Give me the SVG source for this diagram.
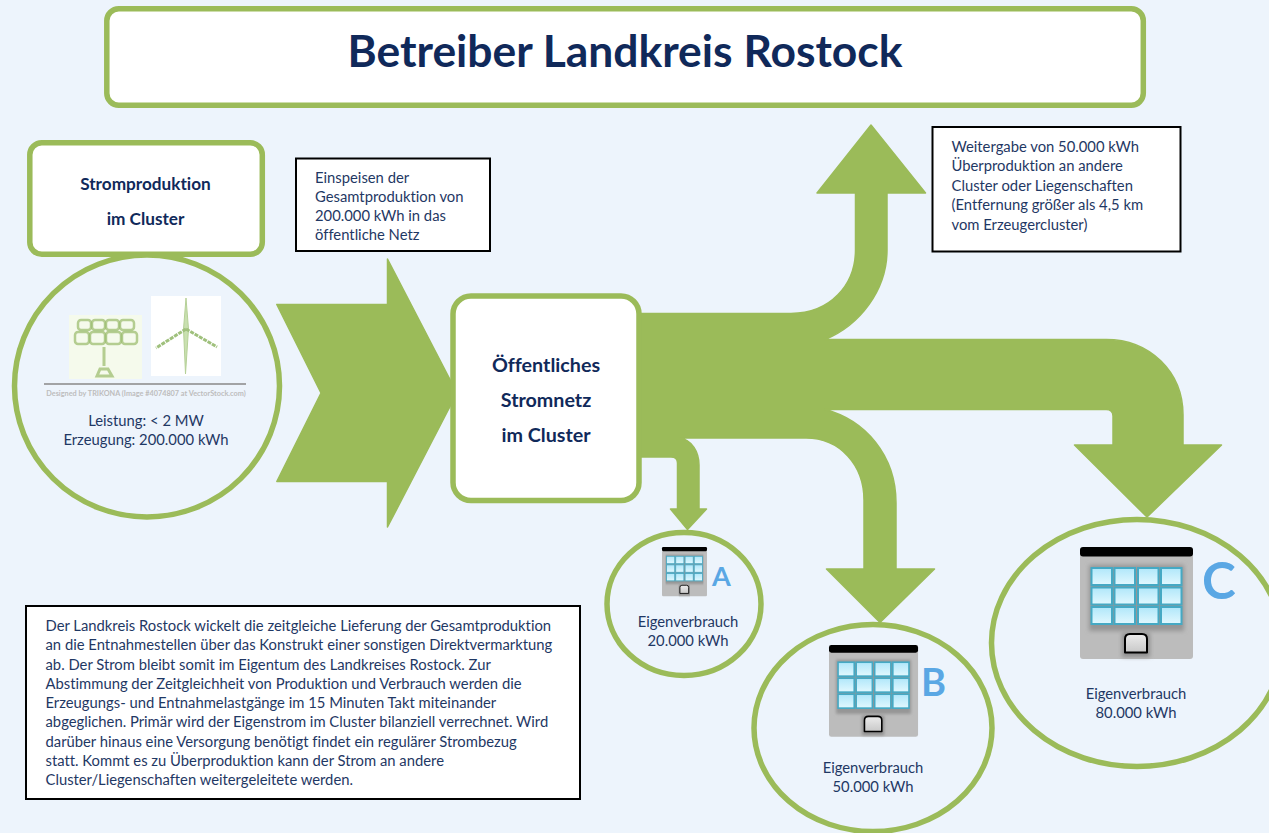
<svg xmlns="http://www.w3.org/2000/svg" xmlns:xlink="http://www.w3.org/1999/xlink" width="1269" height="833" viewBox="0 0 1269 833">
<style>
text{font-family:"Lato","Open Sans","Liberation Sans",sans-serif;fill:#1f3864;font-variant-ligatures:none}
.g{fill:#fff;stroke:#9bbb59;stroke-width:5.5}
.c{fill:none;stroke:#9bbb59;stroke-width:5.5}
.k{fill:#fff;stroke:#000;stroke-width:2}
.t{font-size:14.8px}
.m{text-anchor:middle}
.b{font-weight:700;fill:#10295a}
.l{font-weight:700;fill:#5aa7e4}
.flow{fill:#9bbb59;stroke:#9bbb59;stroke-width:1.5;stroke-linejoin:round}
.p{fill:none;stroke:#9dbd72;stroke-opacity:.75}
</style>
<defs>
<filter id="soft" x="-20%" y="-20%" width="140%" height="140%"><feGaussianBlur stdDeviation=".7"/></filter>
<filter id="shade" x="-20%" y="-20%" width="140%" height="140%"><feGaussianBlur stdDeviation="2"/></filter>
<linearGradient id="w" x1="0" y1="0" x2="0" y2="1"><stop offset="0" stop-color="#b0e7fa"/><stop offset="1" stop-color="#e2f8fe"/></linearGradient>
<linearGradient id="d" x1="0" y1="0" x2="0" y2="1"><stop offset="0" stop-color="#ececec"/><stop offset="1" stop-color="#c8c8c8"/></linearGradient>
<g id="win"><rect width="20.500" height="17" fill="url(#w)" stroke="#45a9c4" stroke-width="2"/></g>
<g id="bld">
<rect y="1" width="113" height="111" rx="3" fill="#bcbcbc"/>
<rect x="9" y="18" width="95" height="66" fill="#959595" filter="url(#shade)"/>
<rect x="42" y="86" width="28" height="24" fill="#8f8f8f" filter="url(#shade)"/>
<rect width="113" height="9.500" rx="3" fill="#000"/>
<use xlink:href="#win" href="#win" x="11.500" y="21"/><use xlink:href="#win" href="#win" x="34.500" y="21"/><use xlink:href="#win" href="#win" x="58" y="21"/><use xlink:href="#win" href="#win" x="81" y="21"/>
<use xlink:href="#win" href="#win" x="11.500" y="40.500"/><use xlink:href="#win" href="#win" x="34.500" y="40.500"/><use xlink:href="#win" href="#win" x="58" y="40.500"/><use xlink:href="#win" href="#win" x="81" y="40.500"/>
<use xlink:href="#win" href="#win" x="11.500" y="60"/><use xlink:href="#win" href="#win" x="34.500" y="60"/><use xlink:href="#win" href="#win" x="58" y="60"/><use xlink:href="#win" href="#win" x="81" y="60"/>
<path d="M45,105.500V92Q45,87 50,87H62Q67,87 67,92V105.500Z" fill="url(#d)" stroke="#000" stroke-width="2" stroke-linejoin="round"/>
</g>
</defs>
<rect width="1269" height="833" fill="#edf4fc"/>

<g id="connectors">
<path class="flow" d="M276.800,304.500H387.500V259L457,393L387.500,527V481.500H276.800L321,393Z"/>
<path class="flow" d="M636,313.500H791C830,313.500 855.500,285 855.500,250V193H817L871,125L925.500,193H887V250C887,290 860,325 825,339.500H1106C1150,339.500 1183,372 1183,415V445H1221.500L1147,517L1074.500,445H1113V416Q1113,409.500 1106,409.500H825C865,420 896,455 896,503V569H934.500L880,622.500L826.500,569H864V500C864,465 840,438 806,438H680C692,440 699,452 699,465V509H706.500L687.500,529.500L670.500,509H677.500V463Q677.500,457 671,457H636Z"/>
</g>

<g id="title"><rect class="g" x="106.800" y="8.800" width="1036.500" height="96.500" rx="12"/>
<text class="b m" x="625" y="67" font-size="44.400">Betreiber Landkreis Rostock</text></g>

<g id="node-produktion">
<ellipse class="c" cx="147" cy="386" rx="132.500" ry="131"/>
<rect x="69" y="315" width="73" height="64" fill="#f5faec"/>
<g class="p" stroke-width="2.500" filter="url(#soft)">
<rect x="78" y="320" width="13" height="10" rx="3"/><rect x="92" y="320" width="13" height="10" rx="3"/><rect x="106" y="320" width="13" height="10" rx="3"/><rect x="120" y="320" width="14" height="10" rx="3"/>
<rect x="75" y="332" width="14" height="12" rx="3"/><rect x="90" y="332" width="15" height="12" rx="3"/><rect x="106" y="332" width="15" height="12" rx="3"/><rect x="122" y="332" width="15" height="12" rx="3"/>
<path d="M104,347V366M97,376L100,369H108L112,376Z" stroke-width="3"/></g>
<rect x="151" y="296" width="70" height="80" fill="#fff"/>
<g filter="url(#soft)">
<path d="M186,298L188.500,329L185.500,374L183.500,329Z" fill="#c9e0b0" stroke="#b5d097" stroke-width="1"/>
<path d="M186,329L156,348M186,329L217,347" stroke="#9fc07c" stroke-width="3" stroke-dasharray="4 1" fill="none"/>
</g>
<line x1="44" y1="384" x2="246" y2="384" stroke="#888" stroke-width="1.600"/>
<text class="m" x="146" y="395.500" font-size="7.300" font-weight="700" style="fill:#bdbdbd">Designed by TRIKONA (Image #4074807 at VectorStock.com)</text>
<text class="t m" x="146" y="426">Leistung: &lt; 2 MW</text>
<text class="t m" x="146" y="445">Erzeugung: 200.000 kWh</text>
</g>

<g id="label-produktion"><rect class="g" x="29.800" y="142.800" width="232.500" height="111.500" rx="12"/>
<text class="b m" x="145.500" y="190" font-size="17.200">Stromproduktion</text>
<text class="b m" x="145.500" y="225" font-size="17.200">im Cluster</text></g>

<g id="note-einspeisen"><rect class="k" x="296" y="158.500" width="194" height="92.500"/>
<text class="t" x="315" y="183">Einspeisen der</text>
<text class="t" x="315" y="202">Gesamtproduktion von</text>
<text class="t" x="315" y="221">200.000 kWh in das</text>
<text class="t" x="315" y="240">öffentliche Netz</text></g>

<g id="node-netz"><rect class="g" x="453" y="296" width="186" height="204.500" rx="18"/>
<text class="b m" x="546" y="372" font-size="19.700">Öffentliches</text>
<text class="b m" x="546" y="407" font-size="19.700">Stromnetz</text>
<text class="b m" x="546" y="442" font-size="19.700">im Cluster</text></g>

<g id="note-weitergabe"><rect class="k" x="932.500" y="127" width="248" height="124.500"/>
<text class="t" x="951.500" y="152">Weitergabe von 50.000 kWh</text>
<text class="t" x="951.500" y="171">Überproduktion an andere</text>
<text class="t" x="951.500" y="191">Cluster oder Liegenschaften</text>
<text class="t" x="951.500" y="210">(Entfernung größer als 4,5 km</text>
<text class="t" x="951.500" y="230">vom Erzeugercluster)</text></g>

<g id="node-a"><ellipse class="c" cx="684" cy="604" rx="77" ry="71.500"/>
<use xlink:href="#bld" href="#bld" transform="translate(662,547) scale(.398,.44)"/>
<text class="l" x="712" y="586" font-size="27">A</text>
<text class="t m" x="688" y="627">Eigenverbrauch</text>
<text class="t m" x="688" y="646">20.000 kWh</text></g>

<g id="node-b"><ellipse class="c" cx="873" cy="728" rx="119" ry="103.500"/>
<use xlink:href="#bld" href="#bld" transform="translate(829,645) scale(.788,.82)"/>
<text class="l" x="921" y="696" font-size="38">B</text>
<text class="t m" x="873" y="773">Eigenverbrauch</text>
<text class="t m" x="873" y="792">50.000 kWh</text></g>

<g id="node-c"><ellipse class="c" cx="1137" cy="643" rx="145.500" ry="123.500"/>
<use xlink:href="#bld" href="#bld" transform="translate(1080,547)"/>
<text class="l" x="1202" y="599" font-size="51">C</text>
<text class="t m" x="1136" y="699">Eigenverbrauch</text>
<text class="t m" x="1136" y="718">80.000 kWh</text></g>

<g id="note-text"><rect class="k" x="26" y="606" width="554" height="193"/>
<text class="t" x="45.500" y="631">Der Landkreis Rostock wickelt die zeitgleiche Lieferung der Gesamtproduktion</text>
<text class="t" x="45.500" y="650">an die Entnahmestellen über das Konstrukt einer sonstigen Direktvermarktung</text>
<text class="t" x="45.500" y="669.500">ab. Der Strom bleibt somit im Eigentum des Landkreises Rostock. Zur</text>
<text class="t" x="45.500" y="689">Abstimmung der Zeitgleichheit von Produktion und Verbrauch werden die</text>
<text class="t" x="45.500" y="708">Erzeugungs- und Entnahmelastgänge im 15 Minuten Takt miteinander</text>
<text class="t" x="45.500" y="727">abgeglichen. Primär wird der Eigenstrom im Cluster bilanziell verrechnet. Wird</text>
<text class="t" x="45.500" y="746.500">darüber hinaus eine Versorgung benötigt findet ein regulärer Strombezug</text>
<text class="t" x="45.500" y="766">statt. Kommt es zu Überproduktion kann der Strom an andere</text>
<text class="t" x="45.500" y="785">Cluster/Liegenschaften weitergeleitete werden.</text></g>
</svg>
